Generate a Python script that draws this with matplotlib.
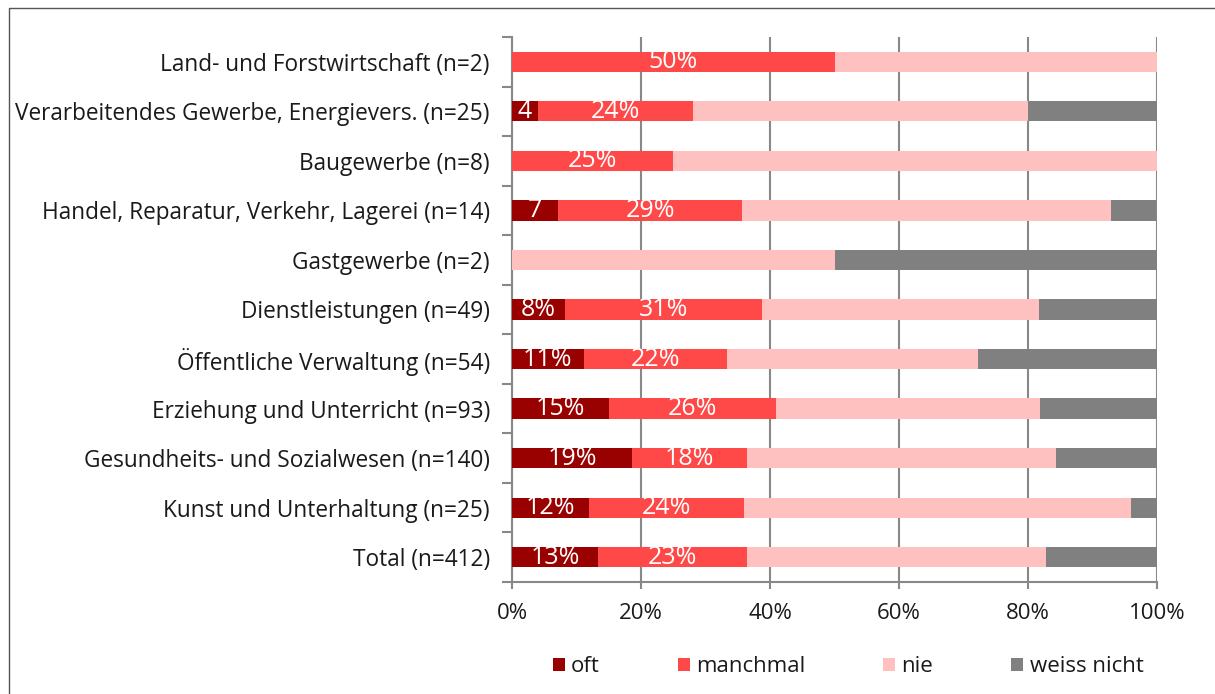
import matplotlib
matplotlib.use("Agg")
import matplotlib.pyplot as plt
from matplotlib.lines import Line2D

plt.rcParams['font.family'] = ['Open Sans', 'DejaVu Sans']

categories = [
    "Land- und Forstwirtschaft (n=2)",
    "Verarbeitendes Gewerbe, Energievers. (n=25)",
    "Baugewerbe (n=8)",
    "Handel, Reparatur, Verkehr, Lagerei (n=14)",
    "Gastgewerbe (n=2)",
    "Dienstleistungen (n=49)",
    "Öffentliche Verwaltung (n=54)",
    "Erziehung und Unterricht (n=93)",
    "Gesundheits- und Sozialwesen (n=140)",
    "Kunst und Unterhaltung (n=25)",
    "Total (n=412)",
]
series_names = ["oft", "manchmal", "nie", "weiss nicht"]
oft =         [0.0, 4.0, 0.0, 7.1, 0.0, 8.2, 11.1, 15.1, 18.6, 12.0, 13.3]
manchmal =    [50.0, 24.0, 25.0, 28.6, 0.0, 30.6, 22.2, 25.8, 17.9, 24.0, 23.1]
nie =         [50.0, 52.0, 75.0, 57.1, 50.0, 42.9, 38.9, 40.9, 47.9, 60.0, 46.4]
weiss_nicht = [0.0, 20.0, 0.0, 7.1, 50.0, 18.4, 27.8, 18.3, 15.7, 4.0, 17.2]
oft_labels = ["", "4", "", "7", "", "8%", "11%", "15%", "19%", "12%", "13%"]
manchmal_labels = ["50%", "24%", "25%", "29%", "", "31%", "22%", "26%", "18%", "24%", "23%"]
x_ticks = [0, 20, 40, 60, 80, 100]
x_ticklabels = ["0%", "20%", "40%", "60%", "80%", "100%"]

colors = ["#990000", "#FF4848", "#FFC0C0", "#808080"]

fig = plt.figure(figsize=(12.15, 6.94), dpi=100)
ax = fig.add_axes([512/1215, 1-582/694, 645/1215, 545/694])

n = len(categories)
ypos = list(range(n))[::-1]
values = [oft, manchmal, nie, weiss_nicht]
left = [0.0]*n
bars_all = []
for name, vals, col in zip(series_names, values, colors):
    b = ax.barh(ypos, vals, left=left, height=0.41, color=col, label=name, zorder=3)
    bars_all.append(b)
    left = [l+v for l, v in zip(left, vals)]

for bars, labels in [(bars_all[0], oft_labels), (bars_all[1], manchmal_labels)]:
    for rect, lab in zip(bars, labels):
        if lab:
            cx = rect.get_x() + rect.get_width()/2
            cy = rect.get_y() + rect.get_height()/2
            ax.text(cx, cy, lab, ha='center', va='center', color='white',
                    fontsize=18, zorder=4)

ax.set_xlim(0, 100)
ax.set_ylim(-0.5, n - 0.5)
ax.set_xticks(x_ticks)
ax.set_xticklabels(x_ticklabels, fontsize=16, color='#1a1a1a')
ax.set_yticks(ypos)
ax.set_yticklabels(categories, fontsize=16.3, color='#1a1a1a')
ax.tick_params(axis='y', length=0, pad=16)
ax.tick_params(axis='x', length=5, color='#888888', width=1.5, pad=10)
ax.set_yticks([i - 0.5 for i in range(n+1)], minor=True)
ax.tick_params(axis='y', which='minor', length=7, color='#888888', width=1.5)
ax.grid(axis='x', color='#888888', linewidth=1.5, zorder=0)
for s in ['top', 'right']:
    ax.spines[s].set_visible(False)
for s in ['left', 'bottom']:
    ax.spines[s].set_color('#888888')
    ax.spines[s].set_linewidth(1.5)

handles = bars_all
leg = fig.legend(handles, series_names, loc='center', bbox_to_anchor=(848/1215, 1-667/694),
                 ncol=4, frameon=False, fontsize=16, handlelength=0.55, handleheight=0.55,
                 handletextpad=0.28, columnspacing=3.5, labelcolor='#1a1a1a')

# outer frame (only left and top edges visible, cropped on the other sides)
fig.add_artist(Line2D([8.5/1215, 8.5/1215, 1.0], [0.0, 1-7.5/694, 1-7.5/694],
                      transform=fig.transFigure, color='#555555', linewidth=1.0))

fig.savefig("out.png", dpi=100)
